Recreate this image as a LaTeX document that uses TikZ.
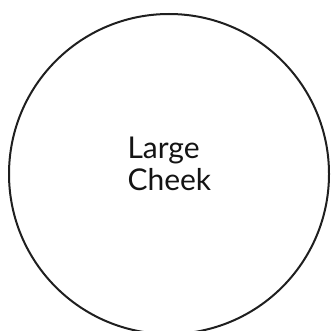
\documentclass[tikz,border=0pt]{standalone}
\usepackage{fontspec}
\setmainfont{Lato}
\begin{document}
\begin{tikzpicture}[x=1pt,y=-1pt,
  cheek/.style={circle,draw=black!88,line width=2pt,minimum size=320pt,inner sep=0pt},
  lbl/.style={align=left,font=\fontsize{30}{32}\selectfont,text=black!92}]
\useasboundingbox (0,0) rectangle (330,331);
\node[cheek] (c) at (169,174) {};
\node[lbl,anchor=base west] (t) at (124,190) {Large\\Cheek};
\end{tikzpicture}
\end{document}
